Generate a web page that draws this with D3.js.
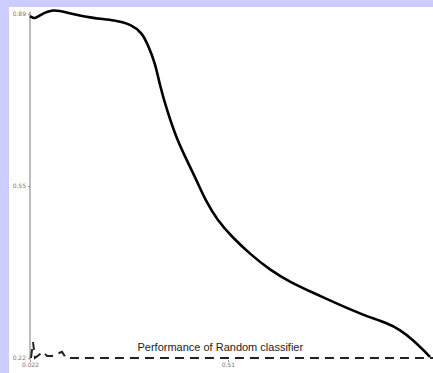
<!DOCTYPE html>
<html>
<head>
<meta charset="utf-8">
<script src="https://cdn.jsdelivr.net/npm/d3@7"></script>
<style>
  body { margin: 0; background: #ccccff; }
  svg { display: block; }
</style>
</head>
<body>
<div id="chart"></div>
<script>
// model curve (lift-like)
const curveX = [0.022, 0.034, 0.047, 0.079, 0.116, 0.175, 0.232, 0.274, 0.299, 0.313, 0.331, 0.343, 0.360, 0.385, 0.410, 0.434, 0.456, 0.484, 0.523, 0.565, 0.615, 0.664, 0.721, 0.788, 0.844, 0.904, 0.936, 0.968, 0.993, 1.010];
const curveY = [0.886, 0.880, 0.888, 0.900, 0.892, 0.882, 0.878, 0.869, 0.853, 0.830, 0.795, 0.750, 0.703, 0.645, 0.604, 0.565, 0.526, 0.489, 0.454, 0.423, 0.391, 0.368, 0.347, 0.323, 0.304, 0.288, 0.275, 0.255, 0.236, 0.222];

// random classifier baseline (with the small wiggle near the origin)
const randX = [0.0245, 0.0294, 0.0343, 0.0541, 0.064, 0.0763, 0.101, 0.111, 1.02];
const randY = [0.22, 0.251, 0.22, 0.232, 0.224, 0.224, 0.232, 0.22, 0.22];

const xTicks = [0.022, 0.511];
const xTickLabels = ['0.022', '0.51'];
const yTicks = [0.22, 0.555, 0.89];
const yTickLabels = ['0.22', '0.55', '0.89'];
const baselineLabel = 'Performance of Random classifier';

const W = 433, H = 373;

const svg = d3.select('#chart').append('svg')
  .attr('width', W)
  .attr('height', H);

// white panel
svg.append('rect')
  .attr('x', 9).attr('y', 7)
  .attr('width', W - 9).attr('height', H - 7)
  .attr('fill', '#fff');

const x = d3.scaleLinear().domain([0.022, 1.0]).range([30, 426]);
const y = d3.scaleLinear().domain([0.22, 0.89]).range([358, 14]);

// y axis
const yAxis = d3.axisLeft(y)
  .tickValues(yTicks)
  .tickFormat((d, i) => yTickLabels[i])
  .tickSize(2)
  .tickPadding(2);

const gy = svg.append('g')
  .attr('transform', 'translate(30,0)')
  .call(yAxis);
gy.select('.domain').remove();
gy.append('line')
  .attr('x1', 0).attr('x2', 0)
  .attr('y1', 12).attr('y2', 360)
  .attr('stroke', '#999').attr('stroke-width', 1.3);
gy.selectAll('.tick line').attr('stroke', '#999');
gy.selectAll('.tick text')
  .attr('fill', '#777')
  .style('font', '6px "DejaVu Sans", sans-serif');

// x axis (ticks only)
const xAxis = d3.axisBottom(x)
  .tickValues(xTicks)
  .tickFormat((d, i) => xTickLabels[i])
  .tickSize(2)
  .tickPadding(1);

const gx = svg.append('g')
  .attr('transform', 'translate(0,360)')
  .call(xAxis);
gx.select('.domain').remove();
gx.selectAll('.tick line').attr('stroke', '#999');
gx.selectAll('.tick text')
  .attr('fill', '#777')
  .style('font', '6px "DejaVu Sans", sans-serif');

// random classifier line
const randData = randX.map((d, i) => ({ x: d, y: randY[i] }));
svg.append('path')
  .datum(randData)
  .attr('fill', 'none')
  .attr('stroke', '#222')
  .attr('stroke-width', 2)
  .attr('stroke-dasharray', '9,6')
  .attr('d', d3.line().x(d => x(d.x)).y(d => y(d.y)));

svg.append('text')
  .attr('x', x(0.492))
  .attr('y', 351)
  .attr('text-anchor', 'middle')
  .attr('fill', '#222')
  .style('font', '11px "Liberation Sans", Arial, sans-serif')
  .text(baselineLabel);

// model curve
const curveData = curveX.map((d, i) => ({ x: d, y: curveY[i] }));
svg.append('path')
  .datum(curveData)
  .attr('fill', 'none')
  .attr('stroke', '#000')
  .attr('stroke-width', 2.6)
  .attr('stroke-linejoin', 'round')
  .attr('d', d3.line().x(d => x(d.x)).y(d => y(d.y)).curve(d3.curveBasis));
</script>
</body>
</html>
